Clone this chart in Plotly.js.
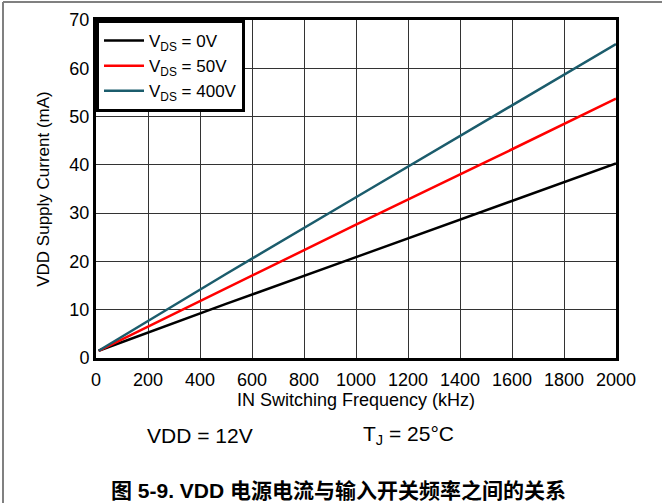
<!DOCTYPE html>
<html>
<head>
<meta charset="utf-8">
<script src="https://cdn.plot.ly/plotly-3.0.1.min.js"></script>
<style>
html,body{margin:0;padding:0;background:#fff;}
#chart{width:662px;height:503px;}
</style>
</head>
<body>
<div id="chart"></div>
<script>
// Data
const freqKHz = [10, 500, 1000, 1500, 2000];
const vds0V   = [1.5, 11.2, 20.9, 30.6, 40.3];
const vds50V  = [1.5, 14.5, 27.6, 40.6, 53.7];
const vds400V = [1.5, 17.4, 33.3, 49.1, 65.0];
const seriesNames = ['V<sub>DS</sub> = 0V', 'V<sub>DS</sub> = 50V', 'V<sub>DS</sub> = 400V'];
const xTicks = [0, 200, 400, 600, 800, 1000, 1200, 1400, 1600, 1800, 2000];
const yTicks = [0, 10, 20, 30, 40, 50, 60, 70];

const colors = ['#000000', '#ff0000', '#1b5c6c'];
const ys = [vds0V, vds50V, vds400V];
const font = 'Liberation Sans, Arial, sans-serif';

const traces = ys.map((y, i) => ({
  x: freqKHz, y: y, type: 'scatter', mode: 'lines', name: seriesNames[i],
  line: {color: colors[i], width: 2.5}
}));

const W = 520, H = 338, L = 96, T = 20;
const px = v => (v - L) / W;
const py = v => (T + H - v) / H;

const layout = {
  width: 662, height: 503,
  margin: {l: 96, r: 46, t: 20, b: 145},
  paper_bgcolor: '#fff', plot_bgcolor: '#fff',
  font: {family: font, color: '#000', size: 18},
  showlegend: true,
  legend: {
    x: 0, y: 1, xanchor: 'left', yanchor: 'top',
    bgcolor: '#fff', bordercolor: '#000', borderwidth: 3,
    font: {family: font, size: 17, color: '#000'},
    tracegroupgap: 0, itemwidth: 40
  },
  xaxis: {
    range: [0, 2000], tickvals: xTicks, ticktext: xTicks.map(String),
    showgrid: true, gridcolor: '#333', gridwidth: 1,
    showline: true, linecolor: '#000', linewidth: 3, mirror: true,
    ticks: 'outside', ticklen: 3, tickcolor: 'rgba(0,0,0,0)', zeroline: false, tickfont: {size: 18},
    title: {text: 'IN Switching Frequency (kHz)', font: {size: 18}, standoff: 4}
  },
  yaxis: {
    range: [0, 70], tickvals: yTicks, ticktext: yTicks.map(String),
    showgrid: true, gridcolor: '#333', gridwidth: 1,
    showline: true, linecolor: '#000', linewidth: 3, mirror: true,
    ticks: '', zeroline: false, tickfont: {size: 18},
    title: {text: 'VDD Supply Current (mA)', font: {size: 17}, standoff: 16}
  },
  annotations: [
    {xref: 'paper', yref: 'paper', x: px(200), y: py(435), text: 'VDD = 12V',
     showarrow: false, font: {size: 21}, xanchor: 'center', yanchor: 'middle'},
    {xref: 'paper', yref: 'paper', x: px(408), y: py(435), text: 'T<sub>J</sub> = 25°C',
     showarrow: false, font: {size: 21}, xanchor: 'center', yanchor: 'middle'},
    {xref: 'paper', yref: 'paper', x: px(338), y: py(490),
     text: '<b>图 5-9. VDD 电源电流与输入开关频率之间的关系</b>',
     showarrow: false, font: {size: 21, family: 'Liberation Sans, Noto Sans CJK SC, sans-serif'},
     xanchor: 'center', yanchor: 'middle'}
  ],
  shapes: [
    {type: 'line', xref: 'paper', yref: 'paper', x0: px(3), x1: px(664), y0: py(2), y1: py(2),
     line: {color: '#808080', width: 2}},
    {type: 'line', xref: 'paper', yref: 'paper', x0: px(3), x1: px(3), y0: py(2), y1: py(505),
     line: {color: '#808080', width: 2}}
  ]
};

Plotly.newPlot('chart', traces, layout, {displayModeBar: false, staticPlot: true});
</script>
</body>
</html>
